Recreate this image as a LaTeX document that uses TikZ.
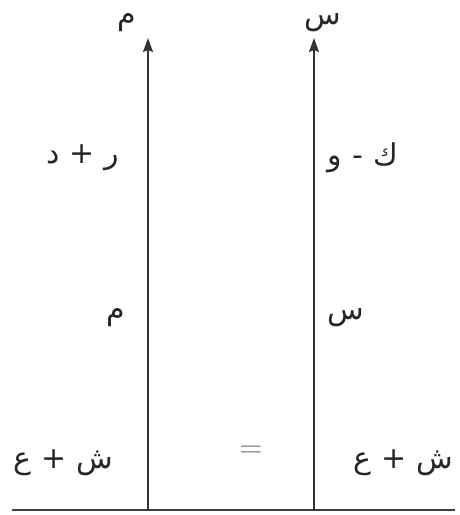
\documentclass[tikz,border=0pt]{standalone}
\usepackage{fontspec}
\newfontfamily\arabicfont[Script=Arabic]{DejaVu Sans}
\TeXXeTstate=1
\usetikzlibrary{arrows.meta}
\newcommand{\gapA}{\hspace{10pt}}
\tikzset{
  lbl/.style={inner sep=0pt, font=\arabicfont\fontsize{30}{34}\selectfont, text=black!85},
  axis/.style={line width=1.8pt, draw=black!75},
  arr/.style={line width=1.6pt, draw=black!80, -{Stealth[length=14pt,width=10pt,inset=2pt]}},
}
\begin{document}
\begin{tikzpicture}[x=1pt,y=1pt]
\useasboundingbox (0,0) rectangle (459,515);
% base line (y measured from bottom)
\coordinate (L) at (12,5);
\coordinate (R) at (455,5);
\draw[axis] (L) -- (R);
% arrows
\coordinate (b1) at (148,5);
\coordinate (t1) at (148,477);
\coordinate (b2) at (314,5);
\coordinate (t2) at (314,477);
\draw[arr] (b1) -- (t1);
\draw[arr] (b2) -- (t2);
% top labels
\node[lbl] (m0) at (127,492) {\beginR م\endR};
\node[lbl] (s0) at (323,492) {\beginR س\endR};
% middle labels
\node[lbl] (rd) at (83,357) {\beginR ر\gapA+\gapA د\endR};
\node[lbl] (kw) at (363,357) {\beginR ك\gapA-\gapA و\endR};
\node[lbl] (m1) at (116,197) {\beginR م\endR};
\node[lbl] (s1) at (346,197) {\beginR س\endR};
% bottom labels
\node[lbl] (se1) at (63,52) {\beginR ش\gapA+\gapA ع\endR};
\node[lbl] (se2) at (403,52) {\beginR ش\gapA+\gapA ع\endR};
\node[lbl, font=\fontsize{32}{34}\selectfont, text=black!55] (eq) at (251,63) {=};
\end{tikzpicture}
\end{document}
